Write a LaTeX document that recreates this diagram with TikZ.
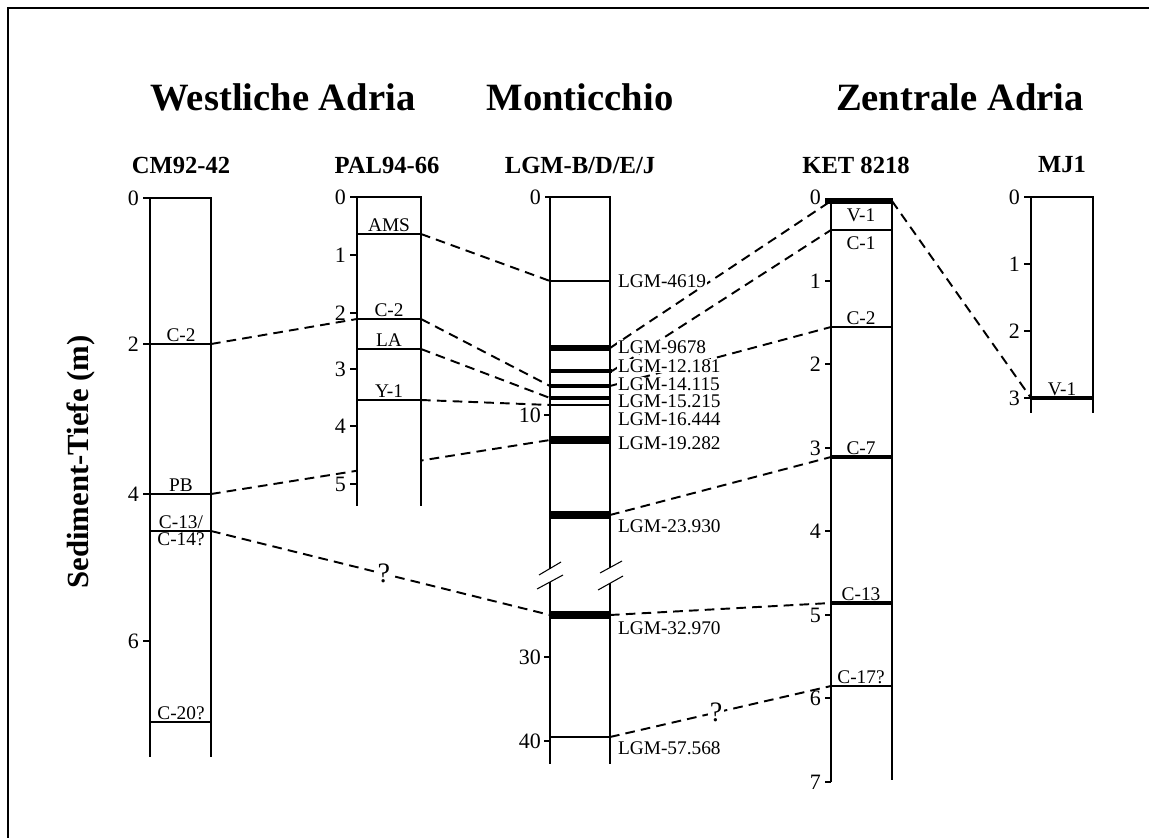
\documentclass[tikz,border=0pt]{standalone}
\usepackage{fontspec}
\setmainfont{Liberation Serif}
\usetikzlibrary{positioning}

\tikzset{
  thinline/.style={line width=0.6pt},
  thickline/.style={line width=1.1pt},
  evt/.style={line width=#1},
  corr/.style={line width=1.1pt, dash pattern=on 5.5pt off 3.5pt},
  region/.style={font=\bfseries\fontsize{22}{26}\selectfont},
  corename/.style={font=\bfseries\fontsize{14}{16}\selectfont},
  depth/.style={font=\fontsize{12.5}{14}\selectfont, inner sep=1pt},
  tag/.style={font=\fontsize{11}{13}\selectfont, inner sep=1pt},
  sample/.style={font=\fontsize{11}{13}\selectfont, inner sep=0.4pt, fill=white, anchor=west},
  qmark/.style={font=\fontsize{16}{18}\selectfont, fill=white, inner sep=1pt},
}

\begin{document}
\begin{tikzpicture}[x=0.02cm, y=-0.02cm]
    \useasboundingbox (0,0) rectangle (1149,838);
    \draw[thickline] (8,838) -- (8,8) -- (1149,8);

    % titles
    \node[region] (west) at (283,97) {Westliche Adria};
    \node[region] (mont) at (580,97) {Monticchio};
    \node[region] (zent) at (960,97) {Zentrale Adria};
    \node[corename] (cm) at (181,165) {CM92-42};
    \node[corename] (pal) at (387,165) {PAL94-66};
    \node[corename] (lgm) at (580,165) {LGM-B/D/E/J};
    \node[corename] (ket) at (856,165) {KET 8218};
    \node[corename] (mj) at (1062,165) {MJ1};
    \node[rotate=90, font=\bfseries\fontsize{17.5}{20}\selectfont] (tiefe) at (81,462) {Sediment-Tiefe (m)};

    % tie points
    \coordinate (cm-c2) at (211,344);
    \coordinate (cm-pb) at (211,494);
    \coordinate (cm-c13) at (211,531);
    \coordinate (pal-ams) at (421,234);
    \coordinate (pal-c2-l) at (357,319);
    \coordinate (pal-c2) at (421,319);
    \coordinate (pal-la) at (421,349);
    \coordinate (pal-y1) at (421,400);
    \coordinate (lgm-46) at (550,281);
    \coordinate (lgm-97) at (610,348);
    \coordinate (lgm-12) at (612,371);
    \coordinate (lgm-14-l) at (550,386);
    \coordinate (lgm-14) at (610,386);
    \coordinate (lgm-15-l) at (550,398);
    \coordinate (lgm-16-l) at (550,405);
    \coordinate (lgm-19-l) at (550,440);
    \coordinate (lgm-24) at (610,515);
    \coordinate (lgm-33-l) at (550,615);
    \coordinate (lgm-33) at (610,615);
    \coordinate (lgm-57) at (610,737);
    \coordinate (ket-v1-l) at (831,201);
    \coordinate (ket-v1) at (892,201);
    \coordinate (ket-c1) at (831,230);
    \coordinate (ket-c2) at (831,327);
    \coordinate (ket-c7) at (831,457);
    \coordinate (ket-c13) at (831,603);
    \coordinate (ket-c17) at (831,686);
    \coordinate (mj-v1) at (1031,398);

    % correlations
    \draw[corr] (cm-c2) -- (pal-c2-l);
    \draw[corr] (cm-pb) -- (lgm-19-l);
    \draw[corr] (cm-c13) -- node[pos=0.51, qmark] (q1) {?} (lgm-33-l);
    \draw[corr] (pal-ams) -- (lgm-46);
    \draw[corr] (pal-c2) -- (lgm-14-l);
    \draw[corr] (pal-la) -- (lgm-15-l);
    \draw[corr] (pal-y1) -- (lgm-16-l);
    \draw[corr] (lgm-97) -- (ket-v1-l);
    \draw[corr] (lgm-12) -- (ket-c1);
    \draw[corr] (lgm-14) -- (ket-c2);
    \draw[corr] (lgm-24) -- (ket-c7);
    \draw[corr] (lgm-33) -- (ket-c13);
    \draw[corr] (lgm-57) -- node[pos=0.48, qmark] (q2) {?} (ket-c17);
    \draw[corr] (ket-v1) -- (mj-v1);

    % CM92-42
    \fill[white] (150,198) rectangle (211,757);
    \draw[thinline] (150,198) -- (150,757);
    \draw[thickline] (143,198) -- (211,198) -- (211,757);
    \foreach \d/\y in {0/198,2/344,4/494,6/641}
        \draw[thinline] (150,\y) -- (143,\y) node[depth, left=1pt] (cm-t\d) {\d};
    \draw[evt=1.1pt] (150,344) -- (211,344);
    \draw[evt=1.1pt] (150,494) -- (211,494);
    \draw[evt=1.1pt] (150,531) -- (211,531);
    \draw[evt=1.1pt] (150,722) -- (211,722);
    \node[tag, above] (cm-c2-lbl) at (181,344) {C-2};
    \node[tag, above] (cm-pb-lbl) at (181,494) {PB};
    \node[tag, above] (cm-c13-lbl) at (181,531) {C-13/};
    \node[tag, below] (cm-c14-lbl) at (181,531) {C-14?};
    \node[tag, above] (cm-c20-lbl) at (181,722) {C-20?};

    % PAL94-66
    \fill[white] (357,197) rectangle (421,506);
    \draw[thinline] (350,197) -- (421,197) -- (421,506);
    \draw[thickline] (357,197) -- (357,506);
    \foreach \d/\y in {1/255,2/313,3/369,4/426,5/484}
        \draw[thinline] (357,\y) -- (350,\y);
    \foreach \d/\y in {0/197,1/255,2/313,3/369,4/426,5/484}
        \node[depth, anchor=east] (pal-t\d) at (348,\y) {\d};
    \draw[evt=1.2pt] (357,234) -- (421,234);
    \draw[evt=1.2pt] (357,319) -- (421,319);
    \draw[evt=1.1pt] (357,349) -- (421,349);
    \draw[evt=0.6pt] (357,400) -- (421,400);
    \node[tag, above] (pal-ams-lbl) at (389,234) {AMS};
    \node[tag, above] (pal-c2-lbl) at (389,319) {C-2};
    \node[tag, above] (pal-la-lbl) at (389,349) {LA};
    \node[tag, above] (pal-y1-lbl) at (389,400) {Y-1};

    % LGM-B/D/E/J
    \fill[white] (550,197) rectangle (610,764);
    \draw[thickline] (550,197) -- (550,569);
    \draw[thickline] (550,582) -- (550,764);
    \draw[thinline] (545,197) -- (610,197) -- (610,568);
    \draw[thickline] (610,583) -- (610,764);
    \draw[thinline] (539,575) -- (561,562);
    \draw[thinline] (537,589) -- (563,575);
    \draw[thinline] (600,573) -- (622,561);
    \draw[thinline] (598,590) -- (623,576);
    \foreach \d/\y in {10/415,30/657,40/741}
        \draw[thinline] (550,\y) -- (544,\y);
    \foreach \d/\y in {0/197,10/415,30/657,40/741}
        \node[depth, anchor=east] (lgm-t\d) at (543,\y) {\d};
    \draw[evt=1.1pt] (550,281) -- (610,281);
    \draw[evt=3.4pt] (550,348) -- (610,348);
    \draw[evt=2.3pt] (550,371) -- (612,371);
    \draw[evt=2.2pt] (550,386) -- (610,386);
    \draw[evt=1.8pt] (550,398) -- (610,398);
    \draw[evt=0.6pt] (550,405) -- (610,405);
    \draw[evt=4.5pt] (550,440) -- (610,440);
    \draw[evt=4pt] (550,515) -- (610,515);
    \draw[evt=4pt] (550,615) -- (610,615);
    \draw[evt=1.1pt] (550,737) -- (610,737);
    \node[sample] (s4619) at (617,281) {LGM-4619};
    \node[sample] (s9678) at (617,347) {LGM-9678};
    \node[sample] (s12181) at (617,366) {LGM-12.181};
    \node[sample] (s14115) at (617,384) {LGM-14.115};
    \node[sample] (s15215) at (617,401) {LGM-15.215};
    \node[sample] (s16444) at (617,419) {LGM-16.444};
    \node[sample] (s19282) at (617,443) {LGM-19.282};
    \node[sample] (s23930) at (617,526) {LGM-23.930};
    \node[sample] (s32970) at (617,628) {LGM-32.970};
    \node[sample] (s57568) at (617,748) {LGM-57.568};

    % KET 8218
    \fill[white] (831,198) rectangle (892,781);
    \draw[thinline] (831,198) -- (831,782);
    \draw[evt=1.3pt] (892,198) -- (892,780);
    \foreach \d/\y in {1/281,2/364,3/448,4/531,5/615,6/698,7/782}
        \draw[thinline] (831,\y) -- (825,\y);
    \foreach \d/\y in {0/197,1/281,2/364,3/448,4/531,5/615,6/698,7/782}
        \node[depth, anchor=east] (ket-t\d) at (823,\y) {\d};
    \draw[evt=3.2pt] (825,201) -- (892,201);
    \draw[evt=1.4pt] (831,230) -- (892,230);
    \draw[evt=1pt] (831,327) -- (892,327);
    \draw[evt=1.8pt] (831,457) -- (892,457);
    \draw[evt=2.2pt] (831,603) -- (892,603);
    \draw[evt=0.6pt] (831,686) -- (892,686);
    \node[tag] (ket-v1-lbl) at (861,215) {V-1};
    \node[tag] (ket-c1-lbl) at (861,243) {C-1};
    \node[tag, above] (ket-c2-lbl) at (861,327) {C-2};
    \node[tag, above] (ket-c7-lbl) at (861,457) {C-7};
    \node[tag, above] (ket-c13-lbl) at (861,603) {C-13};
    \node[tag, above] (ket-c17-lbl) at (861,686) {C-17?};

    % MJ1
    \fill[white] (1031,197) rectangle (1093,413);
    \draw[thinline] (1024,197) -- (1093,197) -- (1093,413);
    \draw[thinline] (1031,197) -- (1031,413);
    \foreach \d/\y in {1/264,2/331,3/398}
        \draw[thinline] (1031,\y) -- (1024,\y);
    \foreach \d/\y in {0/197,1/264,2/331,3/398}
        \node[depth, anchor=east] (mj-t\d) at (1022,\y) {\d};
    \draw[evt=1.8pt] (1031,398) -- (1093,398);
    \node[tag, above] (mj-v1-lbl) at (1062,398) {V-1};
\end{tikzpicture}
\end{document}
